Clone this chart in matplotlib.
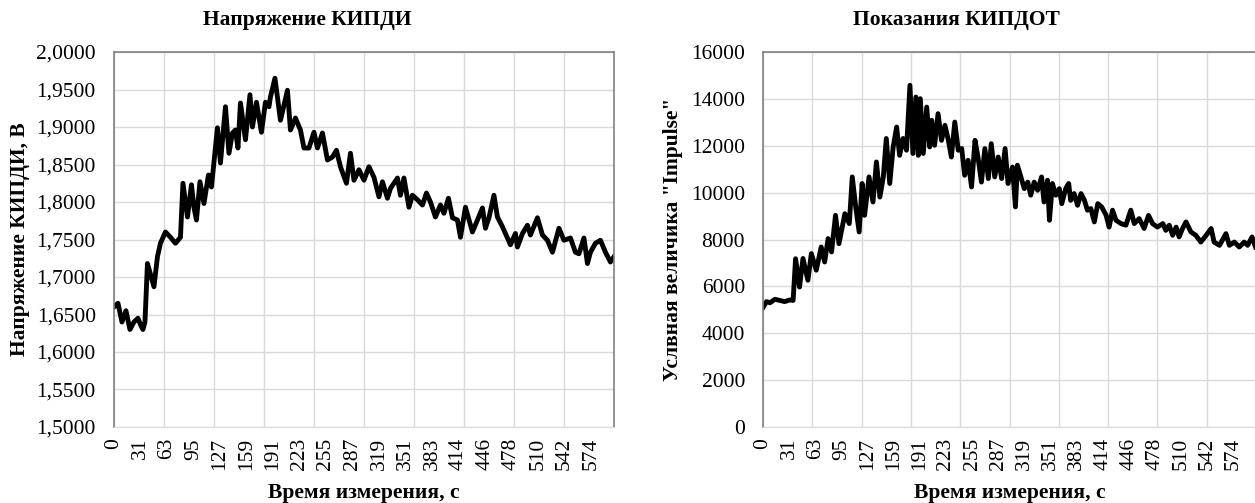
import numpy as np
import matplotlib
matplotlib.use("Agg")
import matplotlib.pyplot as plt
from matplotlib.ticker import FuncFormatter, MultipleLocator

plt.rcParams['font.family'] = ['Liberation Serif', 'DejaVu Serif']

# measurement number (0..1000) and readings of the KIPDI voltage, V
kipdi_n = [0, 8, 16, 24, 32, 40, 48, 54, 58, 62, 67, 80, 87, 93, 103, 113, 123, 133,
           138, 147, 155, 160, 165, 172, 180, 189, 195, 207, 213, 223, 230, 237, 243,
           248, 253, 263, 272, 277, 285, 295, 303, 310, 313, 322, 333, 347, 353, 363,
           373, 380, 390, 400, 407, 417, 427, 437, 445, 453, 465, 473, 480, 490, 500,
           510, 520, 530, 537, 547, 553, 567, 573, 580, 590, 597, 607, 617, 625, 633,
           643, 653, 660, 669, 677, 687, 693, 703, 717, 727, 737, 743, 750, 760, 767,
           777, 783, 793, 803, 807, 817, 827, 833, 847, 857, 867, 877, 890, 900, 913,
           923, 930, 940, 947, 953, 963, 973, 983, 993, 1000]
kipdi_u = [1.660, 1.665, 1.640, 1.655, 1.630, 1.640, 1.645, 1.635, 1.630, 1.640, 1.718,
           1.687, 1.727, 1.745, 1.760, 1.753, 1.745, 1.753, 1.825, 1.780, 1.823, 1.793,
           1.776, 1.827, 1.798, 1.836, 1.820, 1.899, 1.852, 1.927, 1.865, 1.892, 1.896,
           1.872, 1.932, 1.883, 1.943, 1.900, 1.933, 1.893, 1.933, 1.927, 1.940, 1.965,
           1.909, 1.949, 1.896, 1.912, 1.896, 1.872, 1.872, 1.893, 1.872, 1.892, 1.856,
           1.860, 1.869, 1.847, 1.825, 1.865, 1.829, 1.843, 1.829, 1.847, 1.833, 1.807,
           1.827, 1.805, 1.818, 1.832, 1.809, 1.832, 1.793, 1.809, 1.803, 1.796, 1.812,
           1.800, 1.780, 1.796, 1.785, 1.805, 1.779, 1.776, 1.753, 1.793, 1.760, 1.776,
           1.792, 1.765, 1.779, 1.809, 1.780, 1.767, 1.758, 1.743, 1.758, 1.740, 1.758,
           1.769, 1.756, 1.779, 1.756, 1.749, 1.733, 1.765, 1.749, 1.752, 1.733, 1.731,
           1.752, 1.718, 1.733, 1.745, 1.749, 1.733, 1.720, 1.727]

# measurement number and KIPDOT readings, arbitrary "Impulse" units
kipdot_n = [0, 7, 14, 24, 34, 44, 54, 61, 66, 74, 81, 91, 98, 108, 118, 125, 132, 139,
            147, 154, 166, 175, 181, 188, 195, 201, 206, 215, 223, 230, 237, 244, 250,
            257, 264, 271, 277, 284, 291, 298, 304, 310, 315, 319, 325, 332, 338, 342,
            348, 355, 362, 369, 376, 382, 389, 396, 403, 409, 416, 423, 430, 436, 443,
            450, 457, 463, 470, 477, 484, 491, 497, 506, 512, 516, 523, 530, 537, 543,
            550, 557, 565, 570, 577, 581, 587, 594, 601, 606, 614, 620, 624, 631, 638,
            645, 652, 658, 665, 672, 679, 687, 696, 702, 709, 716, 726, 736, 746, 753,
            763, 773, 782, 790, 800, 811, 817, 824, 831, 838, 844, 851, 858, 868, 878,
            888, 899, 909, 915, 926, 939, 946, 956, 966, 976, 983, 992, 999]
kipdot_v = [5100, 5350, 5300, 5450, 5400, 5350, 5420, 5400, 7180, 5970, 7190, 6260, 7400,
            6690, 7680, 7040, 8040, 7470, 9030, 7820, 9100, 8680, 10670, 9390, 8320,
            10390, 9030, 10670, 9600, 11310, 9810, 10670, 12310, 10390, 11950, 12800,
            11590, 12310, 11810, 14580, 11670, 14080, 11590, 14010, 11670, 13650, 11950,
            13090, 12020, 13370, 12230, 12870, 12230, 11520, 13010, 11810, 11880, 10740,
            11380, 10240, 12230, 11520, 10450, 11880, 10600, 12090, 10670, 11520, 10600,
            11880, 10390, 11090, 9390, 11170, 10670, 10170, 10450, 9890, 10450, 10100,
            10670, 9600, 10530, 8820, 10390, 9890, 10170, 9530, 10170, 10390, 9670, 9960,
            9460, 9960, 9670, 9250, 9320, 8750, 9530, 9390, 9030, 8530, 9250, 8820, 8680,
            8610, 9250, 8680, 8890, 8470, 9030, 8680, 8530, 8680, 8390, 8610, 8180, 8530,
            8110, 8470, 8750, 8320, 8180, 7890, 8180, 8470, 7890, 7750, 8250, 7750, 7890,
            7680, 7890, 7750, 8110, 7680]

# time axis labels, one every 53 measurements
time_labels = ["0", "31", "63", "95", "127", "159", "191", "223", "255", "287",
               "319", "351", "383", "414", "446", "478", "510", "542", "574"]
label_step = 53
n_total = 1000

FS = 15.5

fig = plt.figure(figsize=(12.55, 5.03), dpi=100)
ax1 = fig.add_axes([0.0908, 0.1511, 0.3984, 0.7455])
ax2 = fig.add_axes([0.6080, 0.1511, 0.3928, 0.7455])

grid_c = '#d9d9d9'
spine_c = '#808080'


def style_axes(ax):
    ax.set_xlim(0, n_total)
    # labels on major ticks, vertical grid on minor ticks every 100 samples
    ax.set_xticks([i * label_step for i in range(len(time_labels))])
    ax.set_xticklabels(time_labels, rotation=90, fontsize=FS)
    ax.xaxis.set_minor_locator(MultipleLocator(100))
    ax.xaxis.remove_overlapping_locs = False
    ax.tick_params(axis='x', which='both', length=0, pad=8)
    ax.tick_params(axis='y', length=0, labelsize=FS, pad=13)
    ax.grid(False, axis='x', which='major')
    ax.grid(True, axis='x', which='minor', color=grid_c, lw=1.0)
    ax.grid(True, axis='y', which='major', color=grid_c, lw=1.0)
    ax.set_axisbelow(True)
    for s in ['left', 'top', 'right']:
        ax.spines[s].set_color(spine_c)
        ax.spines[s].set_linewidth(1.2)
    ax.spines['bottom'].set_color(grid_c)
    ax.set_xlabel("Время измерения, с", fontsize=FS, fontweight='bold')
    ax.xaxis.set_label_coords(0.5, -0.15)


ax1.plot(kipdi_n, kipdi_u, color='black', lw=3.5, solid_joinstyle='round')
ax1.set_ylim(1.5, 2.0)
ax1.yaxis.set_major_locator(MultipleLocator(0.05))
ax1.yaxis.set_major_formatter(FuncFormatter(lambda v, p: f"{v:.4f}".replace('.', ',')))
style_axes(ax1)
ax1.set_ylabel("Напряжение КИПДИ, В", fontsize=FS, fontweight='bold')
ax1.yaxis.set_label_coords(-0.168, 0.5)

ax2.plot(kipdot_n, kipdot_v, color='black', lw=3.5, solid_joinstyle='round')
ax2.set_ylim(0, 16000)
ax2.yaxis.set_major_locator(MultipleLocator(2000))
style_axes(ax2)
ax2.set_ylabel('Услвная величика "Impulse"', fontsize=FS, fontweight='bold')
ax2.yaxis.set_label_coords(-0.162, 0.5)

fig.text(307 / 1255, 1 - 20 / 503, "Напряжение КИПДИ", ha='center', va='center',
         fontsize=FS, fontweight='bold')
fig.text(956 / 1255, 1 - 20 / 503, "Показания КИПДОТ", ha='center', va='center',
         fontsize=FS, fontweight='bold')

fig.savefig("out.png", dpi=100)
